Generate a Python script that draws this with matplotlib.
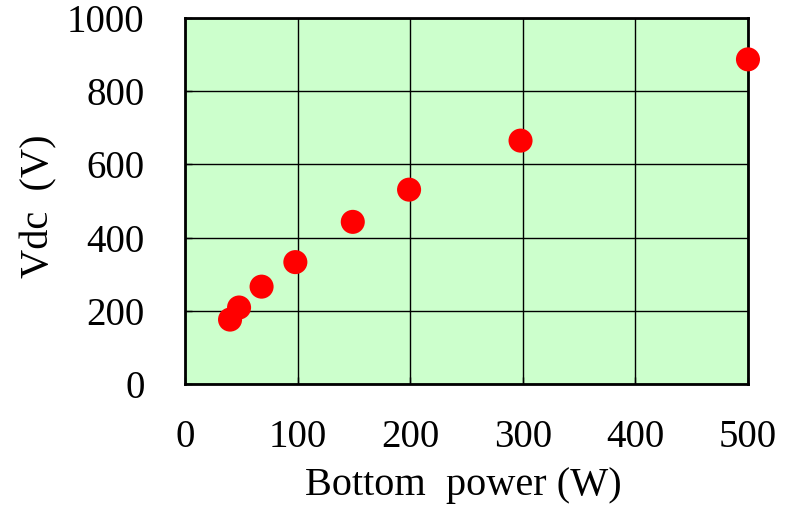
import matplotlib
matplotlib.use("Agg")
import matplotlib.pyplot as plt

# Measured DC self-bias voltage against bottom electrode power
bottom_power_w = [40, 48, 68, 98, 149, 199, 298, 500]
vdc_v = [176, 209, 266, 333, 443, 531, 665, 887]

x_ticks = [0, 100, 200, 300, 400, 500]
y_ticks = [0, 200, 400, 600, 800, 1000]

fig = plt.figure(figsize=(7.91, 5.07), dpi=100)
ax = fig.add_axes([0.2339, 0.2426, 0.9456 - 0.2339, 0.9645 - 0.2426])
ax.set_facecolor("#CCFFCC")

ax.scatter(bottom_power_w, vdc_v, s=300, color="#FF0000", edgecolors="none",
           zorder=3, clip_on=False)

ax.set_xlim(0, 500)
ax.set_ylim(0, 1000)
ax.set_xticks(x_ticks)
ax.set_yticks(y_ticks)
ax.grid(True, color="black", linewidth=1.0)
ax.set_axisbelow(True)

for sp in ax.spines.values():
    sp.set_linewidth(2.0)
    sp.set_color("black")

ax.tick_params(axis="both", direction="in", length=5, width=1.0, colors="black")
ax.tick_params(axis="x", pad=25)
ax.tick_params(axis="y", pad=29)
for lab in ax.get_xticklabels() + ax.get_yticklabels():
    lab.set_fontfamily("Liberation Serif")
    lab.set_fontsize(28)

label_font = {"family": "Liberation Serif", "size": 29}
fig.text(463 / 791, 1 - 486 / 507, "Bottom  power (W)", ha="center", va="center",
         fontdict=label_font)
fig.text(39 / 791, 1 - 206 / 507, "Vdc  (V)", ha="center", va="center",
         rotation=90, fontdict=label_font)

fig.savefig("out.png", dpi=100)
